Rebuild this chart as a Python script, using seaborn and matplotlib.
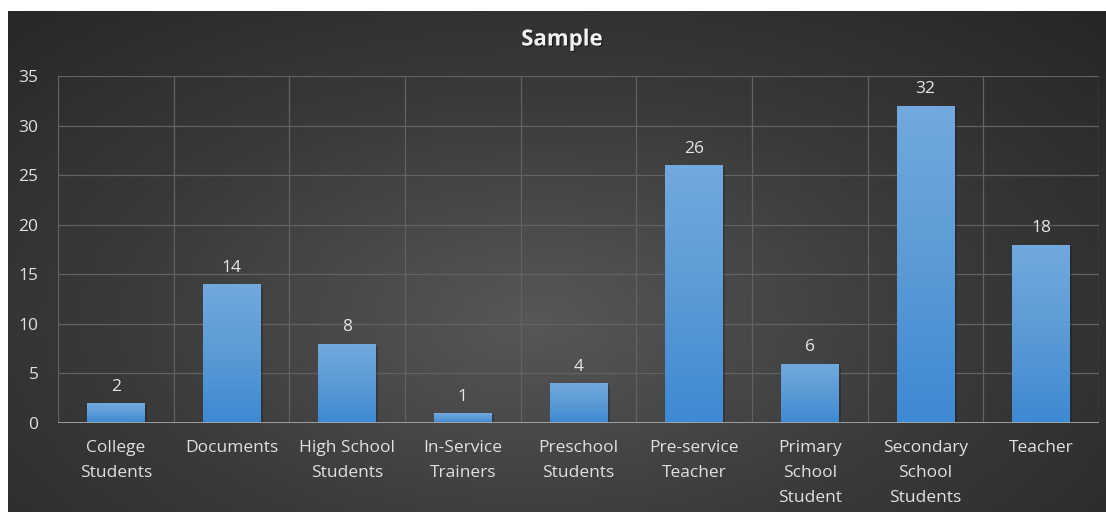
import numpy as np
import pandas as pd
import matplotlib
matplotlib.use("Agg")
import matplotlib.pyplot as plt
import matplotlib.patheffects as pe
from matplotlib.colors import LinearSegmentedColormap
import seaborn as sns

categories = ["College\nStudents", "Documents", "High School\nStudents", "In-Service\nTrainers",
              "Preschool\nStudents", "Pre-service\nTeacher", "Primary\nSchool\nStudent",
              "Secondary\nSchool\nStudents", "Teacher"]
counts = [2, 14, 8, 1, 4, 26, 6, 32, 18]
y_ticks = [0, 5, 10, 15, 20, 25, 30, 35]
title = "Sample"

sns.set_theme(style="dark")
plt.rcParams["font.family"] = ["Open Sans", "DejaVu Sans"]

df = pd.DataFrame({"group": categories, "count": counts})

W, H = 1106, 512
fig = plt.figure(figsize=(W / 100, H / 100), dpi=100, facecolor="white")

# dark panel with a soft radial glow
bg = fig.add_axes([8 / W, 0, 1 - 8 / W, 1 - 11 / H])
bg.set_axis_off()
gx, gy = np.meshgrid(np.linspace(0, 1, 400), np.linspace(0, 1, 200))
r = np.sqrt(((gx - 0.48) / 0.75) ** 2 + ((gy - 0.62) / 0.9) ** 2)
shade = np.clip(r, 0, 1)
panel_cmap = LinearSegmentedColormap.from_list("panel", ["#575757", "#3a3a3a", "#252525"])
bg.imshow(shade, cmap=panel_cmap, aspect="auto", extent=[0, 1, 0, 1], origin="upper",
          vmin=0, vmax=1)

ax = fig.add_axes([58 / W, (H - 423) / H, (1099 - 58) / W, (423 - 76) / H])
ax.set_facecolor("none")

sns.barplot(data=df, x="group", y="count", ax=ax, width=0.5, color="#5b9bd5",
            edgecolor="none", saturation=1)

ax.set_xlim(-0.5, len(categories) - 0.5)
ax.set_ylim(0, 35)
ax.set_yticks(y_ticks)
ax.set_xlabel("")
ax.set_ylabel("")

# grid
grid_c = "#626262"
for yv in y_ticks[1:]:
    ax.axhline(yv, color=grid_c, lw=0.9, zorder=0)
for xv in np.arange(-0.5, len(categories), 1.0):
    ax.axvline(xv, color=grid_c, lw=0.9, zorder=0)
ax.axhline(0, color="#a6a6a6", lw=1.3, zorder=4)
for s in ax.spines.values():
    s.set_visible(False)

# vertical gradient fill for bars, with a faint shadow
bar_cmap = LinearSegmentedColormap.from_list("bar", ["#3d89d3", "#5b9bd5", "#72a9df"])
grad = np.linspace(0, 1, 256).reshape(-1, 1)
for p in ax.patches:
    p.set_path_effects([pe.SimplePatchShadow(offset=(1.5, -1.5), shadow_rgbFace="#151515", alpha=0.3),
                        pe.Normal()])
    x0, y0 = p.get_x(), p.get_y()
    w, h = p.get_width(), p.get_height()
    im = ax.imshow(grad, cmap=bar_cmap, aspect="auto", origin="lower",
                   extent=[x0, x0 + w, y0, y0 + h], zorder=3)
    im.set_clip_path(p)
    ax.annotate(f"{h:g}", (x0 + w / 2, h), xytext=(0, 6), textcoords="offset points",
                ha="center", va="bottom", color="#e6e6e6", fontsize=12.5, zorder=5)

ax.set_xlim(-0.5, len(categories) - 0.5)
ax.set_ylim(0, 35)

ax.tick_params(axis="both", length=0, colors="#e0e0e0", labelsize=12.5)
ax.tick_params(axis="x", pad=12)
ax.tick_params(axis="y", pad=14)
ax.set_xticks(range(len(categories)))
ax.set_xticklabels(categories, linespacing=1.75, va="top")
for t in ax.get_yticklabels():
    t.set_horizontalalignment("right")

fig.text(562 / W, 1 - 40 / H, title, ha="center", va="center", fontsize=16, fontweight="bold",
         color="#f2f2f2",
         path_effects=[pe.withSimplePatchShadow(offset=(1, -1), shadow_rgbFace="#111111", alpha=0.6)])

fig.savefig("out.png", dpi=100, facecolor="white")
